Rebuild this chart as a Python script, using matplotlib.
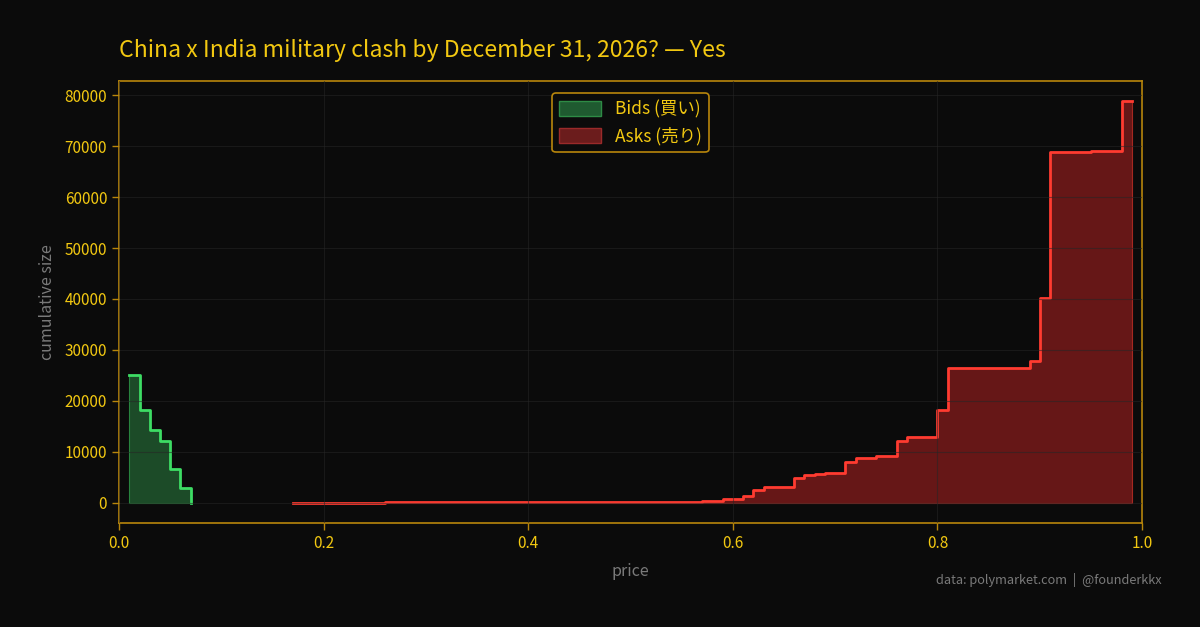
import matplotlib
matplotlib.use("Agg")
import matplotlib.pyplot as plt
import matplotlib.patches as mpatches
import numpy as np

plt.rcParams["font.family"] = ["Noto Sans CJK JP", "DejaVu Sans"]

# ── Order book depth (cumulative size), best price first ─────────────────────
bid_prices = [0.07, 0.06, 0.05, 0.04, 0.03, 0.02, 0.01]
bid_depth = [10, 2870, 6630, 12140, 14290, 18190, 25150]

ask_prices = [0.17, 0.26, 0.57, 0.59, 0.61, 0.62, 0.63, 0.66, 0.67, 0.68, 0.69, 0.71,
              0.72, 0.74, 0.76, 0.77, 0.80, 0.81, 0.89, 0.90, 0.91, 0.95, 0.98, 0.99]
ask_depth = [10, 50, 180, 390, 780, 1310, 2550, 3070, 4900, 5420, 5750, 5950,
             8100, 8760, 9280, 12220, 12880, 18270, 26410, 27780, 40200, 68760, 69020, 78820]

title = "China x India military clash by December 31, 2026? — Yes"
footer = "data: polymarket.com  |  @founderkkx"

BG = "#0b0b0b"
GOLD = "#b8860b"
YELLOW = "#f2c811"
GRAY = "#7a7a7a"

fig = plt.figure(figsize=(12, 6.27), dpi=100)
fig.patch.set_facecolor(BG)
ax = fig.add_axes([0.0992, 0.1659, 0.8525, 0.7049])
ax.set_facecolor(BG)

# bids
ax.fill_between(bid_prices, bid_depth, step="pre", color="#2e8b45", alpha=0.5,
                edgecolor="#3ddc64", linewidth=0.8)
ax.step(bid_prices, bid_depth, where="pre", color="#3ddc64", linewidth=2.0)

# asks
ax.fill_between(ask_prices, ask_depth, step="pre", color="#b22222", alpha=0.55,
                edgecolor="#ff3b30", linewidth=0.8)
ax.step(ask_prices, ask_depth, where="pre", color="#ff3b30", linewidth=2.0)

ax.set_xlim(0, 1.0)
ax.grid(True, color="#262626", alpha=0.55, linewidth=0.8)
ax.set_axisbelow(False)

for s in ax.spines.values():
    s.set_color(GOLD)
    s.set_linewidth(1.2)
ax.tick_params(colors=GOLD, labelcolor=YELLOW, labelsize=11, length=5, width=1)

ax.set_xlabel("price", color=GRAY, fontsize=11.5, labelpad=8)
ax.set_ylabel("cumulative size", color=GRAY, fontsize=11.5, labelpad=6)

fig.text(0.0992, 0.92, title, color=YELLOW, fontsize=16.6, ha="left", va="center")
fig.text(0.968, 0.075, footer, color=GRAY, fontsize=9.2, ha="right", va="center")

handles = [
    mpatches.Patch(facecolor="#1f5a30", edgecolor="#2e8b45", label="Bids (買い)"),
    mpatches.Patch(facecolor="#6b1c1c", edgecolor="#9a2a2a", label="Asks (売り)"),
]
leg = ax.legend(handles=handles, loc="upper center", facecolor=BG, edgecolor=GOLD,
                labelcolor=YELLOW, fontsize=12.5, framealpha=1.0,
                handlelength=2.4, handleheight=0.9, borderaxespad=0.7)
leg.get_frame().set_linewidth(1.2)

fig.savefig("out.png", dpi=100, facecolor=fig.get_facecolor())
